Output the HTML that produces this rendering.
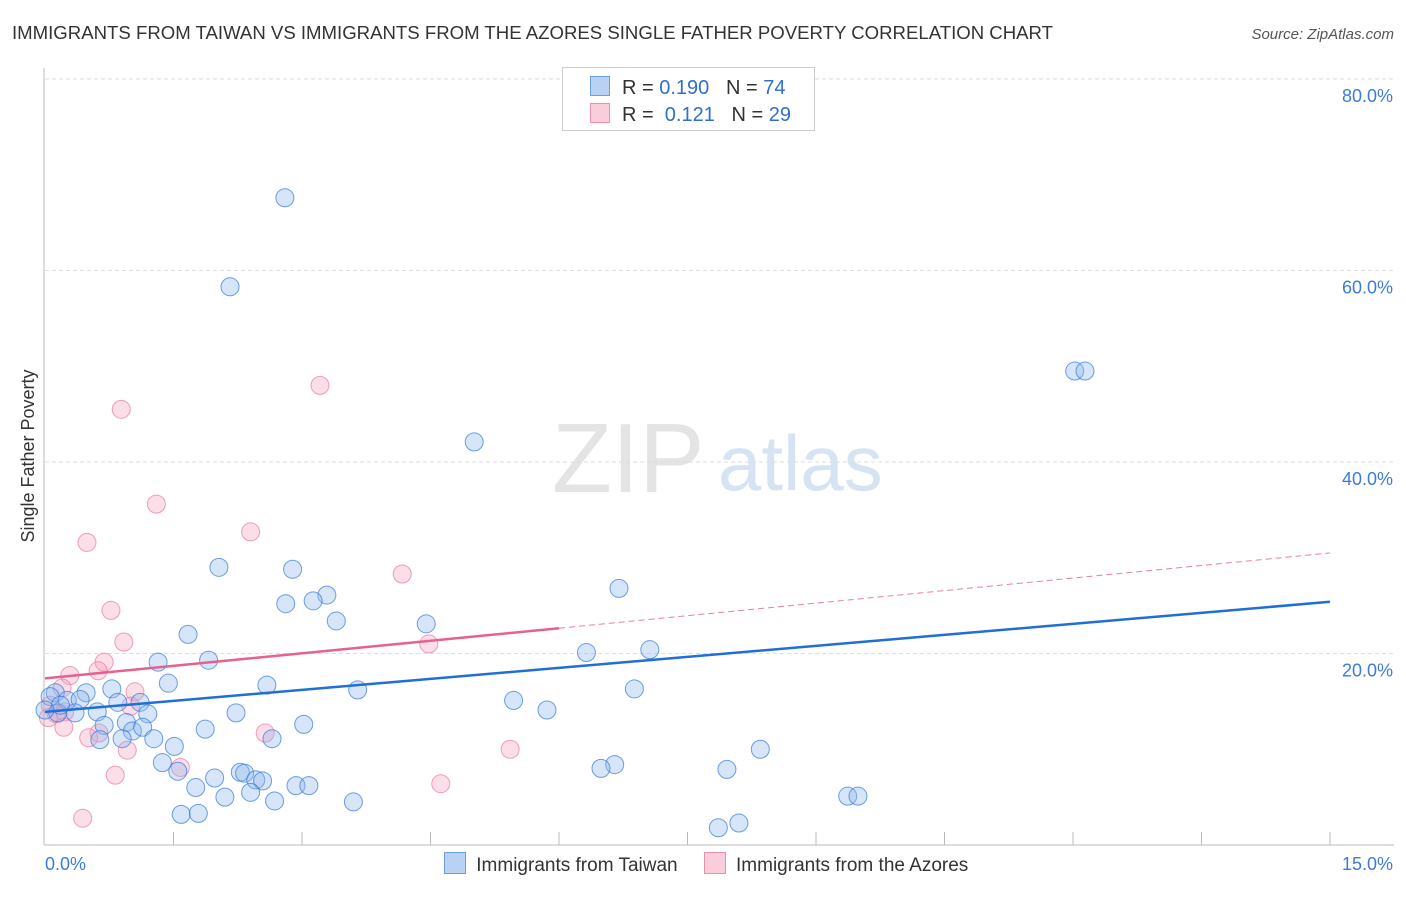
<!DOCTYPE html>
<html><head><meta charset="utf-8"><style>
body{margin:0;background:#fff;font-family:"Liberation Sans",sans-serif;}
svg text{font-family:"Liberation Sans",sans-serif;}
</style></head><body>
<svg id="c" width="1406" height="892"></svg>
<script>
const taiwanX=[2.80,2.16,12.02,12.14,5.01,2.03,2.89,3.29,2.81,3.13,6.70,3.40,4.45,1.67,6.32,7.06,1.32,1.91,1.44,2.59,0.78,3.65,6.88,0.12,0.48,0.26,0.41,0.85,5.47,1.11,5.86,2.23,0.61,0.35,1.20,0.15,0.95,3.02,0.69,1.87,1.02,1.14,0.90,1.27,2.65,8.35,1.51,1.37,1.55,6.65,6.49,7.96,1.98,2.28,2.33,2.46,2.54,1.76,2.93,3.08,2.10,2.40,2.68,3.60,9.37,9.49,1.59,1.79,8.10,7.86,0.06,0.18,0.0,0.64];
const taiwanY=[67.6,58.3,49.5,49.5,42.1,29.0,28.8,26.1,25.2,25.5,26.8,23.4,23.1,22.0,20.1,20.4,19.1,19.3,16.9,16.7,16.3,16.2,16.3,15.9,15.9,15.1,15.2,14.9,15.1,14.9,14.1,13.8,13.9,13.8,13.7,13.8,12.8,12.6,12.5,12.1,11.9,12.3,11.1,11.1,11.1,10.0,10.3,8.6,7.7,8.4,8.0,7.9,7.0,7.6,7.5,6.8,6.7,6.0,6.2,6.2,5.0,5.5,4.6,4.5,5.1,5.1,3.2,3.3,2.3,1.8,15.5,14.6,14.1,11.0];
const azoresX=[3.21,0.89,1.30,2.40,0.49,4.17,0.77,0.92,4.48,0.69,0.29,0.62,1.05,0.20,0.06,1.00,0.23,0.13,0.63,0.51,0.22,2.57,0.96,5.43,0.82,1.58,4.62,0.44,0.04];
const azoresY=[48.0,45.5,35.6,32.7,31.6,28.3,24.5,21.2,21.0,19.1,17.7,18.2,16.0,16.4,14.6,14.5,13.9,13.7,11.7,11.2,12.3,11.7,9.9,10.0,7.3,8.1,6.4,2.8,13.3];
const taiwanTrend=[13.9,25.4];
const azoresTrend=[17.4,30.5];
const azoresSolidEnd=6.0;
const yTicks=[20,40,60,80];
const yTickLabels=["20.0%","40.0%","60.0%","80.0%"];
const xTickLabels=["0.0%","15.0%"];
const NS="http://www.w3.org/2000/svg",svg=document.getElementById('c');
const X=v=>45+v/15*1285, Y=v=>845-v*9.575;
function mk(t,a,p){const e=document.createElementNS(NS,t);for(const k in a)e.setAttribute(k,a[k]);(p||svg).appendChild(e);return e;}
let t=mk('text',{x:12,y:39,'font-size':18.6,fill:'#333'});t.textContent="IMMIGRANTS FROM TAIWAN VS IMMIGRANTS FROM THE AZORES SINGLE FATHER POVERTY CORRELATION CHART";

t=mk('text',{x:1394,y:39,'font-size':15,fill:'#555','font-style':'italic','text-anchor':'end'});t.textContent="Source: ZipAtlas.com";

t=mk('text',{x:552,y:492,'font-size':98,fill:'#e4e4e4','font-family':'Liberation Serif'});t.textContent="ZIP";

t=mk('text',{x:718,y:490,'font-size':78,fill:'#d6e3f3'});t.textContent="atlas";

mk('line',{x1:45,x2:1394,y1:79,y2:79,stroke:'#ddd','stroke-dasharray':'4,3'});
yTicks.forEach((v,i)=>{const g=mk('line',{x1:45,x2:1394,y1:Y(v),y2:Y(v),stroke:'#ddd','stroke-dasharray':'4,3'});

const l=mk('text',{x:1393,y:Y(v)+23,'font-size':18,fill:'#3d7bd8','text-anchor':'end'});l.textContent=yTickLabels[i];
});
mk('line',{x1:44,x2:44,y1:68,y2:845,stroke:'#bbb'});
mk('line',{x1:44,x2:1394,y1:845,y2:845,stroke:'#bbb'});
for(let k=1;k<=10;k++){mk('line',{x1:X(k*1.5),x2:X(k*1.5),y1:832,y2:845,stroke:'#bbb'});}
t=mk('text',{x:45,y:870,'font-size':18,fill:'#3d7bd8'});t.textContent=xTickLabels[0];

t=mk('text',{x:1393,y:870,'font-size':18,fill:'#3d7bd8','text-anchor':'end'});t.textContent=xTickLabels[1];

t=mk('text',{x:34,y:456,'font-size':18,fill:'#333','text-anchor':'middle',transform:'rotate(-90 34 456)'});t.textContent="Single Father Poverty";

azoresX.forEach((v,i)=>{const c=mk('circle',{cx:X(v),cy:Y(azoresY[i]),r:9,fill:'rgba(244,160,188,0.35)',stroke:'rgba(232,120,160,0.7)','stroke-width':1});
});
taiwanX.forEach((v,i)=>{const c=mk('circle',{cx:X(v),cy:Y(taiwanY[i]),r:9,fill:'rgba(140,180,235,0.35)',stroke:'rgba(50,120,220,0.7)','stroke-width':1});
});
const ay=v=>azoresTrend[0]+(azoresTrend[1]-azoresTrend[0])*v/15;
let l=mk('line',{x1:X(0),y1:Y(taiwanTrend[0]),x2:X(15),y2:Y(taiwanTrend[1]),stroke:'#1f6fd6','stroke-width':2.5});

l=mk('line',{x1:X(0),y1:Y(ay(0)),x2:X(azoresSolidEnd),y2:Y(ay(azoresSolidEnd)),stroke:'#e8608c','stroke-width':2.5});

l=mk('line',{x1:X(azoresSolidEnd),y1:Y(ay(azoresSolidEnd)),x2:X(15),y2:Y(ay(15)),stroke:'#e8809c','stroke-width':1,'stroke-dasharray':'6,4'});

</script>
<div style="position:absolute;left:562px;top:67px;width:251px;height:62px;border:1px solid #ccc;background:#fff;font-size:20px;color:#333;">
 <div style="position:absolute;left:27px;top:8px;white-space:pre"><span style="display:inline-block;width:18px;height:18px;background:#b9d2f3;border:1px solid #6a9ee0;vertical-align:-2px;margin-right:12px"></span>R = <span style="color:#2f6fd0">0.190</span>   N = <span style="color:#2f6fd0">74</span></div>
 <div style="position:absolute;left:27px;top:35px;white-space:pre"><span style="display:inline-block;width:18px;height:18px;background:#f9cdd9;border:1px solid #e891ad;vertical-align:-2px;margin-right:12px"></span>R =  <span style="color:#2f6fd0">0.121</span>   N = <span style="color:#2f6fd0">29</span></div>
</div>
<div style="position:absolute;left:439px;top:830px;font-size:19px;color:#333;white-space:pre">
 <span><span style="display:inline-block;width:20px;height:20px;background:#b9d2f3;border:1px solid #6a9ee0;vertical-align:-3px;margin-right:10px"></span>Immigrants from Taiwan</span>     <span><span style="display:inline-block;width:20px;height:20px;background:#f9cdd9;border:1px solid #e891ad;vertical-align:-3px;margin-right:10px"></span>Immigrants from the Azores</span>
</div>
</body></html>
